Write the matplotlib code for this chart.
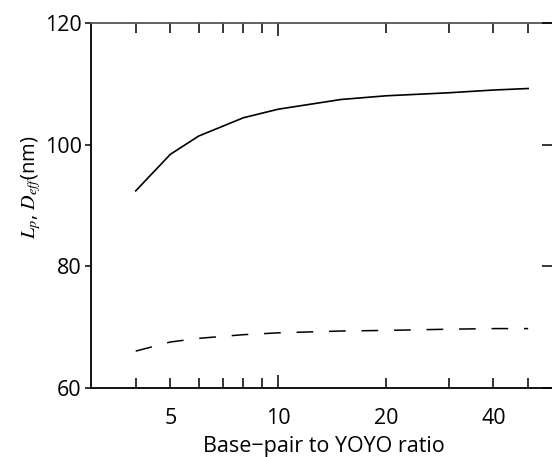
import matplotlib
matplotlib.use("Agg")
import matplotlib.pyplot as plt
from matplotlib.ticker import FixedLocator, FuncFormatter

plt.rcParams['font.family'] = ['Open Sans', 'DejaVu Sans']
plt.rcParams['mathtext.fontset'] = 'stix'
plt.rcParams['lines.scale_dashes'] = False

# Data
ratio = [4, 5, 6, 8, 10, 15, 20, 30, 40, 50]
Lp = [92.4, 98.4, 101.4, 104.4, 105.8, 107.4, 108.0, 108.5, 108.95, 109.2]
Deff = [66.1, 67.6, 68.2, 68.8, 69.1, 69.4, 69.5, 69.7, 69.8, 69.8]

xlabel_text = "Base\u2212pair to YOYO ratio"
ylabel_text = r"$L_{p}$, $D_{eff}$(nm)"
x_labelled = [5, 10, 20, 40]
x_minor = [4, 5, 6, 7, 8, 9, 20, 30, 40, 50]
x_major = [10]
y_ticks = [60, 80, 100, 120]

W, H = 552, 457
fig = plt.figure(figsize=(W / 100, H / 100), dpi=100)
left_px, right_px, top_px, bot_px = 91, 556.5, 22.7, 388.3
ax = fig.add_axes([left_px / W, 1 - bot_px / H, (right_px - left_px) / W, (bot_px - top_px) / H])

ax.plot(ratio, Lp, color='black', lw=1.2, solid_joinstyle='round')
ax.plot(ratio, Deff, color='black', lw=1.1, linestyle=(0, (12, 11.4)))

ax.set_xscale('log')
ax.set_xlim(3, 60)
ax.set_ylim(60, 120)

ax.xaxis.set_major_locator(FixedLocator(x_major))
ax.xaxis.set_major_formatter(FuncFormatter(lambda v, p: f"{v:g}"))
ax.xaxis.set_minor_locator(FixedLocator(x_minor))
ax.xaxis.set_minor_formatter(FuncFormatter(lambda v, p: f"{v:g}" if v in x_labelled else ""))
ax.tick_params(axis='x', which='both', direction='in', top=True, bottom=True,
               labelsize=15.5, pad=14, width=1.1, color='black')
ax.tick_params(axis='x', which='major', length=9.5)
ax.tick_params(axis='x', which='minor', length=7.3)

ax.set_yticks(y_ticks)
ax.tick_params(axis='y', which='both', direction='out', left=True, right=False,
               labelsize=15.5, pad=2.5, length=4.3, width=1.1)

ax2 = ax.twinx()
ax2.set_ylim(60, 120)
ax2.set_yticks(y_ticks)
ax2.tick_params(axis='y', direction='in', length=11, width=1.1, labelright=False)
for s in ax2.spines.values():
    s.set_visible(False)

for name in ['left', 'bottom']:
    ax.spines[name].set_linewidth(1.3)
    ax.spines[name].set_color('black')
ax.spines['top'].set_linewidth(1.3)
ax.spines['top'].set_color('#555555')
ax.spines['right'].set_linewidth(1.3)

ax.set_xlabel(xlabel_text, fontsize=15.5, labelpad=5)
ax.set_ylabel(ylabel_text, fontsize=14.5)
ax.yaxis.set_label_coords(-0.103, 0.549)

fig.savefig('out.png', dpi=100)
